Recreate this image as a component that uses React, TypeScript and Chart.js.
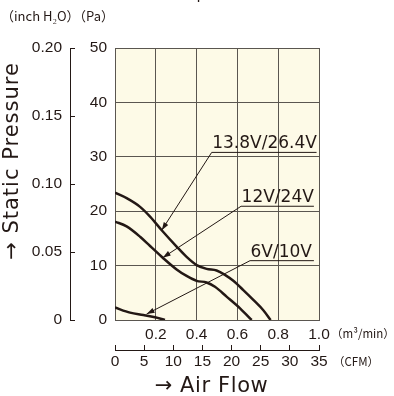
import React, { useEffect, useRef } from 'react';
import { Chart, registerables } from 'chart.js';

Chart.register(...registerables);

// ---- data ----
const flow138 = [0, 0.057, 0.123, 0.172, 0.229, 0.302, 0.351, 0.4, 0.449, 0.498, 0.539, 0.58, 0.629, 0.678, 0.727, 0.763];
const press138 = [23.4, 22.4, 20.8, 19.0, 16.5, 13.5, 11.6, 10.1, 9.4, 9.1, 8.3, 7.2, 5.5, 3.7, 1.8, 0];
const flow12 = [0, 0.057, 0.123, 0.172, 0.234, 0.302, 0.351, 0.4, 0.449, 0.49, 0.547, 0.613, 0.67];
const press12 = [18.1, 17.2, 15.3, 13.6, 11.45, 9.3, 8.1, 7.2, 6.9, 6.1, 4.3, 2.15, 0];
const flow6 = [0, 0.074, 0.139, 0.196, 0.245];
const press6 = [2.3, 1.35, 0.92, 0.5, 0];
const seriesNames = ['13.8V/26.4V', '12V/24V', '6V/10V'];

const m3Labels = ['', '0.2', '0.4', '0.6', '0.8', '1.0'];
const cfmLabels = ['0', '5', '10', '15', '20', '25', '30', '35'];
const paLabels = ['0', '10', '20', '30', '40', '50'];
const inchLabels = ['0', '0.05', '0.10', '0.15', '0.20'];

// callout anchors in data units (underline start/end, arrow tip)
const callouts = [
  { text: seriesNames[0], x0: 0.474, x1: 0.988, y: 30.9, tipX: 0.229, tipY: 16.5 },
  { text: seriesNames[1], x0: 0.618, x1: 0.975, y: 21.0, tipX: 0.234, tipY: 11.45 },
  { text: seriesNames[2], x0: 0.662, x1: 0.975, y: 11.0, tipX: 0.155, tipY: 1.1 },
];

const INK = '#231815';
const GRID = '#5a5650';
const BG = '#fdfae7';

const toPts = (xs: number[], ys: number[]) => xs.map((x, i) => ({ x, y: ys[i] }));

const bgPlugin = {
  id: 'bgFill',
  beforeDraw(chart: any) {
    const { ctx, chartArea: a } = chart;
    ctx.save();
    ctx.fillStyle = BG;
    ctx.fillRect(a.left, a.top, a.right - a.left, a.bottom - a.top);
    ctx.restore();
  },
};

const textPlugin = {
  id: 'texts',
  afterDraw(chart: any) {
    const { ctx, scales } = chart;
    const sx = scales.x;
    const sy = scales.y;
    ctx.save();
    ctx.fillStyle = INK;
    ctx.strokeStyle = INK;

    // callouts
    ctx.font = '17px "DejaVu Sans"';
    ctx.textAlign = 'left';
    ctx.textBaseline = 'alphabetic';
    ctx.lineWidth = 1;
    for (const c of callouts) {
      const px0 = sx.getPixelForValue(c.x0);
      const px1 = sx.getPixelForValue(c.x1);
      const py = sy.getPixelForValue(c.y);
      const tx = sx.getPixelForValue(c.tipX);
      const ty = sy.getPixelForValue(c.tipY);
      ctx.fillText(c.text, px0 + 0.5, py - 3.5);
      ctx.beginPath();
      ctx.moveTo(px0, py + 0.5);
      ctx.lineTo(px1, py + 0.5);
      ctx.stroke();
      ctx.beginPath();
      ctx.moveTo(px0, py + 0.5);
      ctx.lineTo(tx, ty);
      ctx.stroke();
      const ang = Math.atan2(ty - py, tx - px0);
      const L = 8, W = 2.6;
      ctx.beginPath();
      ctx.moveTo(tx, ty);
      ctx.lineTo(tx - L * Math.cos(ang) + W * Math.sin(ang), ty - L * Math.sin(ang) - W * Math.cos(ang));
      ctx.lineTo(tx - L * Math.cos(ang) - W * Math.sin(ang), ty - L * Math.sin(ang) + W * Math.cos(ang));
      ctx.closePath();
      ctx.fill();
    }

    // cut-off title at the very top
    ctx.font = '15px "DejaVu Sans"';
    ctx.fillText('Speed', 187, -1);

    // unit headers
    ctx.font = '13px "Noto Sans CJK JP"';
    ctx.textBaseline = 'middle';
    ctx.fillText('（inch H₂O）（Pa）', 1, 16);
    ctx.font = '11.5px "Noto Sans CJK JP"';
    ctx.fillText('（m³/min）', 331, 334);
    ctx.fillText('（CFM）', 333, 362);

    // axis titles
    ctx.font = '21px "DejaVu Sans"';
    (ctx as any).letterSpacing = '0.6px';
    ctx.textAlign = 'center';
    ctx.fillText('→ Air Flow', 211.5, 387);
    (ctx as any).letterSpacing = '1px';
    ctx.translate(12.5, 161);
    ctx.rotate(-Math.PI / 2);
    ctx.fillText('→ Static Pressure', 0, 0);
    ctx.restore();
  },
};

export default function App() {
  const ref = useRef<HTMLCanvasElement | null>(null);
  useEffect(() => {
    if (!ref.current) return;
    const tickFont = { family: '"Liberation Sans", Arial, sans-serif', size: 15.5 };
    const line = (data: any[]) => ({
      data,
      borderColor: INK,
      borderWidth: 2.5,
      pointRadius: 0,
      fill: false,
      cubicInterpolationMode: 'monotone' as const,
      xAxisID: 'x',
      yAxisID: 'y',
    });
    const chart = new Chart(ref.current, {
      type: 'line',
      data: {
        datasets: [
          { label: seriesNames[0], ...line(toPts(flow138, press138)) },
          { label: seriesNames[1], ...line(toPts(flow12, press12)) },
          { label: seriesNames[2], ...line(toPts(flow6, press6)) },
        ],
      },
      options: {
        responsive: false,
        animation: false,
        devicePixelRatio: 1,
        layout: { padding: { top: 48, right: 75, bottom: 0, left: 0 } },
        plugins: { legend: { display: false }, tooltip: { enabled: false } },
        scales: {
          x: {
            type: 'linear', position: 'bottom', weight: 0, min: 0, max: 1,
            ticks: { stepSize: 0.2, autoSkip: false, maxRotation: 0, padding: 5, color: INK, font: tickFont,
              callback: (_v: any, i: number) => m3Labels[i] },
            grid: { color: GRID, lineWidth: 1, drawTicks: false },
            border: { color: GRID, width: 1 },
            afterFit: (s: any) => { s.height = 30; },
          },
          x2: {
            type: 'linear', position: 'bottom', weight: 1, min: 0, max: 35,
            ticks: { stepSize: 5, autoSkip: false, maxRotation: 0, padding: 7, color: INK, font: tickFont,
              callback: (_v: any, i: number) => cfmLabels[i] },
            grid: { drawOnChartArea: false, drawTicks: true, tickLength: -5, color: INK, lineWidth: 1 },
            border: { color: INK, width: 1 },
            afterFit: (s: any) => { s.height = 46; },
          },
          y: {
            type: 'linear', position: 'left', weight: 0, min: 0, max: 50,
            ticks: { stepSize: 10, padding: 8, color: INK, font: tickFont,
              callback: (_v: any, i: number) => paLabels[i] },
            grid: { color: GRID, lineWidth: 1, drawTicks: false },
            border: { color: GRID, width: 1 },
            afterFit: (s: any) => { s.width = 45; },
          },
          y2: {
            type: 'linear', position: 'left', weight: 1, min: 0, max: 0.2,
            ticks: { stepSize: 0.05, padding: 13, color: INK, font: tickFont,
              callback: (_v: any, i: number) => inchLabels[i] },
            grid: { drawOnChartArea: false, drawTicks: true, tickLength: -5, color: INK, lineWidth: 1 },
            border: { color: INK, width: 1 },
            afterFit: (s: any) => { s.width = 70; },
          },
        },
      } as any,
      plugins: [bgPlugin, textPlugin],
    });
    return () => chart.destroy();
  }, []);
  return (
    <div style={{ position: 'fixed', left: 0, top: 0, width: 394, height: 396, background: '#fff' }}>
      <canvas ref={ref} width={394} height={396} style={{ display: 'block' }} />
    </div>
  );
}
